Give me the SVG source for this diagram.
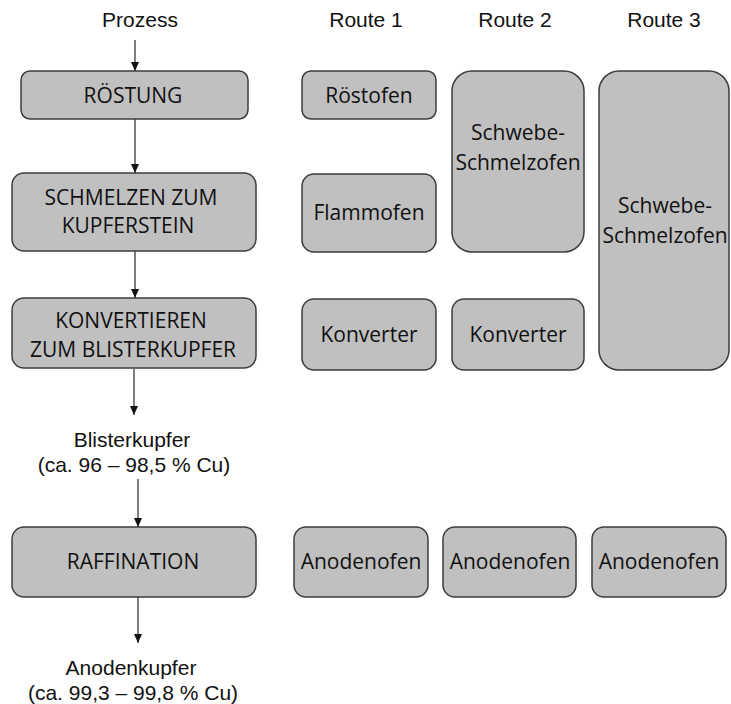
<svg xmlns="http://www.w3.org/2000/svg" width="731" height="704" viewBox="0 0 731 704">
<style>
.box{fill:#c0c0c0;stroke:#3c3c3c;stroke-width:1.5}
.bt{font-family:"Open Sans","Noto Sans",sans-serif;font-size:21px;fill:#111;text-anchor:middle}
.hd{font-family:"Liberation Sans",Arial,sans-serif;font-size:21px;fill:#111;text-anchor:middle}
.ar{stroke:#3a3a3a;stroke-width:1.3;fill:none;marker-end:url(#ah)}
</style>
<defs>
<marker id="ah" markerUnits="userSpaceOnUse" markerWidth="9" markerHeight="8" viewBox="0 0 9 8" refX="9" refY="4" orient="auto">
<path d="M0,0 L9,4 L0,8 Z" fill="#111"/>
</marker>
</defs>
<rect width="731" height="704" fill="#fff"/>
<g id="headers">
<text class="hd" x="140" y="27">Prozess</text>
<text class="hd" x="366" y="27">Route 1</text>
<text class="hd" x="515" y="27">Route 2</text>
<text class="hd" x="664" y="27">Route 3</text>
</g>
<g id="connectors">
<line class="ar" x1="135" y1="40" x2="135" y2="71"/>
<line class="ar" x1="135" y1="119" x2="135" y2="173"/>
<line class="ar" x1="135" y1="251" x2="135" y2="298"/>
<line class="ar" x1="134" y1="369" x2="134" y2="415"/>
<line class="ar" x1="138" y1="479" x2="138" y2="527"/>
<line class="ar" x1="138" y1="597" x2="138" y2="643"/>
</g>
<g id="roestung">
<rect class="box" x="21" y="71" width="227" height="48" rx="9"/>
<text class="bt" x="133" y="103">RÖSTUNG</text>
</g>
<g id="schmelzen">
<rect class="box" x="12" y="173" width="244" height="78" rx="12"/>
<text class="bt" x="131" y="205">SCHMELZEN ZUM</text>
<text class="bt" x="128" y="233">KUPFERSTEIN</text>
</g>
<g id="konvertieren">
<rect class="box" x="12" y="298" width="244" height="70" rx="12"/>
<text class="bt" x="131" y="328">KONVERTIEREN</text>
<text class="bt" x="133" y="357">ZUM BLISTERKUPFER</text>
</g>
<g id="blisterkupfer">
<text class="hd" x="132" y="447">Blisterkupfer</text>
<text class="hd" x="134" y="472">(ca. 96 – 98,5 % Cu)</text>
</g>
<g id="raffination">
<rect class="box" x="12" y="527" width="244" height="70" rx="12"/>
<text class="bt" x="133" y="569">RAFFINATION</text>
</g>
<g id="anodenkupfer">
<text class="hd" x="131" y="675">Anodenkupfer</text>
<text class="hd" x="133" y="700">(ca. 99,3 – 99,8 % Cu)</text>
</g>
<g id="r1-roestofen">
<rect class="box" x="302" y="71" width="134" height="48" rx="9"/>
<text class="bt" x="369" y="103">Röstofen</text>
</g>
<g id="r1-flammofen">
<rect class="box" x="302" y="174" width="134" height="78" rx="12"/>
<text class="bt" x="369" y="220">Flammofen</text>
</g>
<g id="r1-konverter">
<rect class="box" x="302" y="299" width="134" height="71" rx="12"/>
<text class="bt" x="369" y="342">Konverter</text>
</g>
<g id="r2-schwebe">
<rect class="box" x="452" y="71" width="132" height="181" rx="20"/>
<text class="bt" x="518" y="140">Schwebe-</text>
<text class="bt" x="518" y="170">Schmelzofen</text>
</g>
<g id="r2-konverter">
<rect class="box" x="452" y="299" width="132" height="71" rx="12"/>
<text class="bt" x="518" y="342">Konverter</text>
</g>
<g id="r3-schwebe">
<rect class="box" x="599" y="71" width="130" height="299" rx="20"/>
<text class="bt" x="665" y="213">Schwebe-</text>
<text class="bt" x="665" y="243">Schmelzofen</text>
</g>
<g id="r1-anodenofen">
<rect class="box" x="294" y="527" width="134" height="70" rx="12"/>
<text class="bt" x="361" y="569">Anodenofen</text>
</g>
<g id="r2-anodenofen">
<rect class="box" x="443" y="527" width="133" height="70" rx="12"/>
<text class="bt" x="510" y="569">Anodenofen</text>
</g>
<g id="r3-anodenofen">
<rect class="box" x="592" y="527" width="134" height="70" rx="12"/>
<text class="bt" x="659" y="569">Anodenofen</text>
</g>
</svg>
